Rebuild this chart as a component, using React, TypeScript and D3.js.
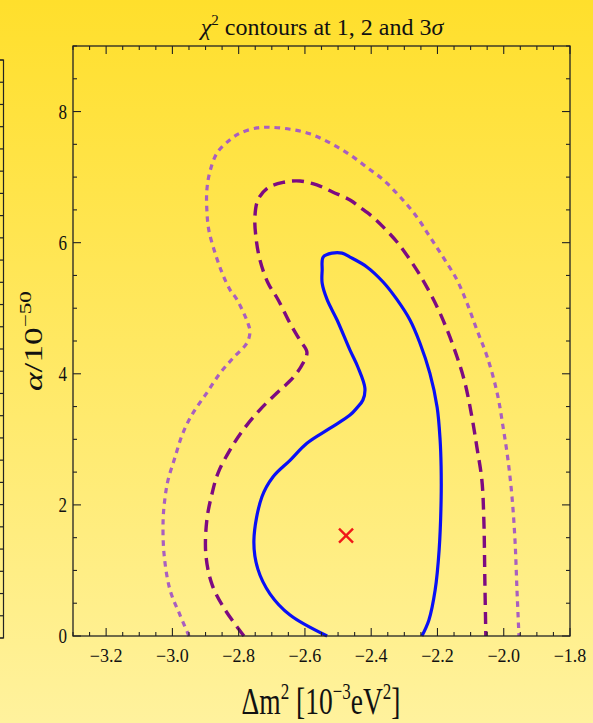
import React from "react";
import * as d3 from "d3";

// Δm² [10⁻³ eV²] and α/10⁻⁵⁰ pairs along each confidence contour
const sigma1X = [-2.533, -2.645, -2.705, -2.742, -2.754, -2.730, -2.696, -2.645, -2.594, -2.524, -2.464, -2.443, -2.425, -2.419, -2.440, -2.464, -2.503, -2.533, -2.548, -2.548, -2.545, -2.518, -2.488, -2.464, -2.413, -2.364, -2.322, -2.283, -2.253, -2.223, -2.201, -2.192, -2.189, -2.189, -2.195, -2.207, -2.226, -2.247];
const sigma1Y = [0, 0.32, 0.64, 1.02, 1.46, 2.12, 2.43, 2.68, 2.94, 3.17, 3.37, 3.48, 3.60, 3.78, 4.10, 4.36, 4.82, 5.13, 5.38, 5.58, 5.78, 5.84, 5.84, 5.78, 5.63, 5.40, 5.13, 4.82, 4.47, 4.01, 3.49, 2.99, 2.58, 2.07, 1.31, 0.70, 0.24, 0];

const sigma2X = [-2.784, -2.841, -2.880, -2.899, -2.896, -2.880, -2.862, -2.826, -2.787, -2.736, -2.684, -2.636, -2.606, -2.594, -2.615, -2.645, -2.681, -2.711, -2.736, -2.748, -2.751, -2.742, -2.714, -2.666, -2.615, -2.564, -2.515, -2.464, -2.434, -2.395, -2.364, -2.322, -2.283, -2.244, -2.201, -2.171, -2.141, -2.117, -2.096, -2.081, -2.066, -2.060, -2.057, -2.054];
const sigma2Y = [0, 0.40, 0.78, 1.24, 1.77, 2.18, 2.49, 2.84, 3.14, 3.45, 3.71, 3.94, 4.16, 4.33, 4.51, 4.77, 5.13, 5.38, 5.74, 6.09, 6.39, 6.65, 6.83, 6.92, 6.94, 6.88, 6.77, 6.65, 6.54, 6.39, 6.24, 6.01, 5.74, 5.43, 5.02, 4.67, 4.26, 3.86, 3.34, 2.88, 2.38, 1.77, 0.85, 0];

const sigma3X = [-2.950, -2.977, -3.007, -3.025, -3.028, -3.022, -3.013, -2.992, -2.968, -2.938, -2.896, -2.856, -2.817, -2.775, -2.766, -2.772, -2.805, -2.826, -2.850, -2.871, -2.890, -2.896, -2.896, -2.887, -2.865, -2.826, -2.796, -2.745, -2.705, -2.645, -2.585, -2.524, -2.464, -2.413, -2.364, -2.313, -2.262, -2.223, -2.183, -2.141, -2.111, -2.081, -2.050, -2.020, -2.002, -1.987, -1.975, -1.966, -1.960, -1.954];
const sigma3Y = [0, 0.32, 0.70, 1.24, 1.77, 2.12, 2.38, 2.73, 3.10, 3.40, 3.71, 4.01, 4.24, 4.47, 4.64, 4.77, 5.13, 5.28, 5.54, 5.84, 6.19, 6.50, 6.80, 7.08, 7.37, 7.57, 7.67, 7.75, 7.76, 7.73, 7.66, 7.52, 7.34, 7.15, 6.96, 6.70, 6.39, 6.09, 5.78, 5.43, 5.08, 4.67, 4.26, 3.71, 3.19, 2.68, 2.12, 1.46, 0.70, 0];

// best-fit point
const bestFit = [-2.476, 1.53];

const xTickLabels = [-3.2, -3.0, -2.8, -2.6, -2.4, -2.2, -2.0, -1.8];
const yTickLabels = [0, 2, 4, 6, 8];

const W = 593;
const H = 723;
const plot = { left: 73, right: 570, top: 46, bottom: 636 };

const x = d3.scaleLinear().domain([-3.3, -1.8]).range([plot.left, plot.right]);
const y = d3.scaleLinear().domain([0, 9]).range([plot.bottom, plot.top]);

const serif = "'Liberation Serif', 'Times New Roman', serif";

function contourPath(xs: number[], ys: number[]) {
  const pts = xs.map((v, i) => [v, ys[i]] as [number, number]);
  return d3
    .line<[number, number]>()
    .x((d) => x(d[0]))
    .y((d) => y(d[1]))
    .curve(d3.curveCatmullRom.alpha(0.5))(pts) as string;
}

const fmt = (v: number) => (v < 0 ? "\u2212" + Math.abs(v).toFixed(1) : v.toFixed(1));

export default function App() {
  const xMinor = d3.range(0, 31).map((i) => -3.3 + i * 0.05);
  const yMinor = d3.range(0, 19).map((i) => i * 0.5);
  const isMajorX = (v: number) => xTickLabels.some((t) => Math.abs(t - v) < 1e-6);
  const isMajorY = (v: number) => yTickLabels.some((t) => Math.abs(t - v) < 1e-6);

  // neighbouring panel's right edge, partly visible at the far left
  const side = d3.scaleLinear().domain([0, 26]).range([638, 60]);
  const sideTicks = d3.range(0, 27);

  const [bx, by] = [x(bestFit[0]), y(bestFit[1])];

  return (
    <svg width={W} height={H} style={{ position: "absolute", left: 0, top: 0 }}>
      <defs>
        <linearGradient id="bg" x1="0" y1="0" x2="0" y2="1">
          <stop offset="0%" stopColor="#ffdf2c" />
          <stop offset="100%" stopColor="#fff29d" />
        </linearGradient>
      </defs>
      <rect x={0} y={0} width={W} height={H} fill="url(#bg)" />

      {/* partial neighbour frame */}
      <g stroke="#222" strokeWidth={1.2} fill="none">
        <path d={`M0,${side(26)}H3.5V${side(0)}H0`} />
        {sideTicks.map((i) => (
          <line key={i} x1={0} x2={3.5} y1={side(i)} y2={side(i)} />
        ))}
      </g>

      {/* contours */}
      <path d={contourPath(sigma3X, sigma3Y)} fill="none" stroke="#a95ec0" strokeWidth={3.2} strokeDasharray="5.5 5" />
      <path d={contourPath(sigma2X, sigma2Y)} fill="none" stroke="#7d0a82" strokeWidth={3.4} strokeDasharray="12 7" />
      <path d={contourPath(sigma1X, sigma1Y)} fill="none" stroke="#0a10f5" strokeWidth={3.2} />

      {/* best fit marker */}
      <g stroke="#f01818" strokeWidth={2.4}>
        <line x1={bx - 7} y1={by - 7} x2={bx + 7} y2={by + 7} />
        <line x1={bx - 7} y1={by + 7} x2={bx + 7} y2={by - 7} />
      </g>

      {/* frame */}
      <rect
        x={plot.left}
        y={plot.top}
        width={plot.right - plot.left}
        height={plot.bottom - plot.top}
        fill="none"
        stroke="#222"
        strokeWidth={1.3}
      />

      {/* ticks on all four sides */}
      <g stroke="#222" strokeWidth={1.1}>
        {xMinor.map((v, i) => {
          const len = isMajorX(v) ? 8 : 4;
          const px = x(v);
          return (
            <g key={i}>
              <line x1={px} x2={px} y1={plot.bottom} y2={plot.bottom - len} />
              <line x1={px} x2={px} y1={plot.top} y2={plot.top + len} />
            </g>
          );
        })}
        {yMinor.map((v, i) => {
          const len = isMajorY(v) ? 8 : 4;
          const py = y(v);
          return (
            <g key={i}>
              <line x1={plot.left} x2={plot.left + len} y1={py} y2={py} />
              <line x1={plot.right} x2={plot.right - len} y1={py} y2={py} />
            </g>
          );
        })}
      </g>

      {/* tick labels */}
      <g fontFamily={serif} fill="#111">
        {xTickLabels.map((v) => (
          <text key={v} x={x(v)} y={662} textAnchor="middle" fontSize={18}>
            {fmt(v)}
          </text>
        ))}
        {yTickLabels.map((v) => (
          <text
            key={v}
            transform={`translate(${plot.left - 6},${y(v) + 7}) scale(1,1.2)`}
            textAnchor="end"
            fontSize={17}
          >
            {v}
          </text>
        ))}
      </g>

      {/* title */}
      <text x={322} y={35} textAnchor="middle" fontFamily={serif} fontSize={24} fill="#111">
        <tspan fontStyle="italic">χ</tspan>
        <tspan dy={-10} fontSize={15}>2</tspan>
        <tspan dy={10}> contours at 1, 2 and 3</tspan>
        <tspan fontStyle="italic">σ</tspan>
      </text>

      {/* x axis label */}
      <text
        transform="translate(321,714) scale(1,1.35)"
        textAnchor="middle"
        fontFamily={serif}
        fontSize={27.5}
        fill="#111"
      >
        <tspan>Δm</tspan>
        <tspan dy={-11} fontSize={17}>2</tspan>
        <tspan dy={11}> [10</tspan>
        <tspan dy={-11} fontSize={17}>−3</tspan>
        <tspan dy={11}>eV</tspan>
        <tspan dy={-11} fontSize={17}>2</tspan>
        <tspan dy={11}>]</tspan>
      </text>

      {/* y axis label */}
      <text
        transform="translate(42,341) rotate(-90) scale(1.36,1)"
        textAnchor="middle"
        fontFamily={serif}
        fontSize={26}
        fill="#111"
      >
        <tspan fontStyle="italic">α</tspan>
        <tspan>/10</tspan>
        <tspan dy={-11} fontSize={17}>−50</tspan>
      </text>
    </svg>
  );
}
